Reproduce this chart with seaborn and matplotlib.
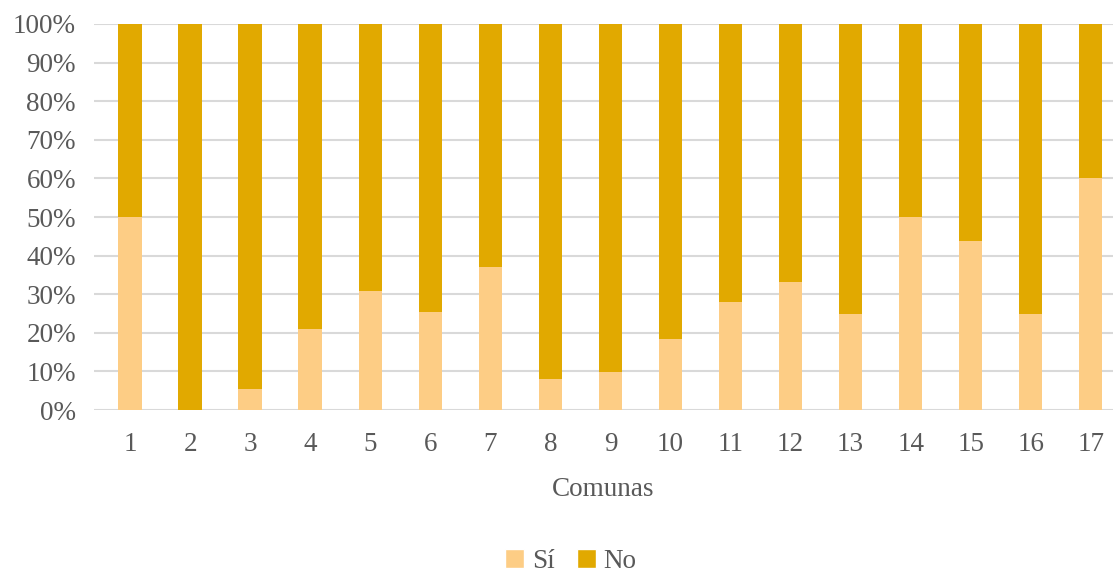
import matplotlib
matplotlib.use("Agg")
import matplotlib.pyplot as plt
import numpy as np
import pandas as pd
import seaborn as sns
from matplotlib.patches import Patch

# Share of "Sí" answers per comuna (percent); "No" is the remainder to 100%
comunas = [str(i) for i in range(1, 18)]
si_pct = [50.0, 0.0, 5.5, 21.1, 30.9, 25.5, 37.0, 8.1, 9.8, 18.5, 27.9, 33.2, 25.0, 50.0, 43.9, 25.0, 60.2]
no_pct = [100.0 - v for v in si_pct]

series_labels = ["Sí", "No"]
color_si = "#fdcd85"
color_no = "#e1a900"
text_color = "#595959"

df = pd.DataFrame({"comuna": comunas, "si": si_pct, "no": no_pct})
df["total"] = df["si"] + df["no"]

sns.set_theme(style="white")
plt.rcParams["font.family"] = ["Liberation Serif", "DejaVu Serif"]

fig = plt.figure(figsize=(11.13, 5.74), dpi=100)
ax = fig.add_axes([0.0845, 0.2857, 0.9155, 0.6725])

# stacked: draw full height in "No" colour, then "Sí" on top from the bottom
sns.barplot(data=df, x="comuna", y="total", color=color_no, width=0.39,
            saturation=1, linewidth=0, ax=ax, zorder=2)
sns.barplot(data=df, x="comuna", y="si", color=color_si, width=0.39,
            saturation=1, linewidth=0, ax=ax, zorder=3)

ax.set_ylim(0, 100)
ax.set_xlim(-0.6, 16.37)
yt = np.arange(0, 101, 10)
ax.set_yticks(yt)
ax.set_yticklabels([f"{v}%" for v in yt])
ax.yaxis.grid(True, color="#d9d9d9", linewidth=1.5, zorder=0)
ax.set_axisbelow(True)
for s in ax.spines.values():
    s.set_visible(False)
ax.tick_params(axis="both", length=0, labelsize=19.5, labelcolor=text_color)
ax.tick_params(axis="y", pad=13)
ax.tick_params(axis="x", pad=16)
ax.set_ylabel("")
ax.set_xlabel("Comunas", fontsize=19.5, color=text_color, labelpad=14)

handles = [Patch(facecolor=color_si, label=series_labels[0]),
           Patch(facecolor=color_no, label=series_labels[1])]
fig.legend(handles=handles, loc="lower center", bbox_to_anchor=(0.513, -0.042), ncol=2,
           frameon=False, fontsize=19.5, handlelength=0.7, handleheight=0.7,
           handletextpad=0.3, columnspacing=0.8, labelcolor=text_color)

fig.savefig("out.png", dpi=100)
